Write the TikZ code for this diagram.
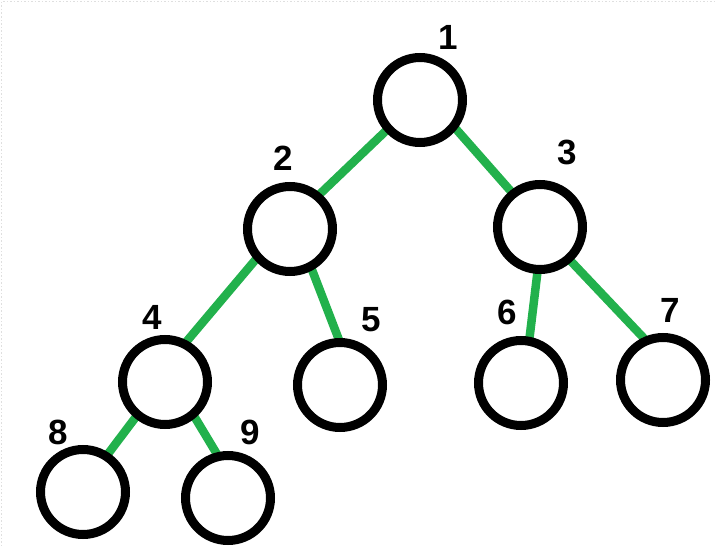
\documentclass[tikz,border=0pt]{standalone}
\usepackage{fontspec}
\setmainfont{Liberation Sans}
\usetikzlibrary{backgrounds}
\definecolor{paintgreen}{RGB}{34,177,76}
\tikzset{
  treenode/.style={circle, draw=black, line width=9pt, minimum size=85pt,
    inner sep=0pt, outer sep=0pt, fill=none},
  treeedge/.style={draw=paintgreen, line width=8.5pt},
  numlabel/.style={inner sep=0pt, font=\fontsize{35}{35}\selectfont\bfseries}
}
\begin{document}
\begin{tikzpicture}[x=1pt, y=-1pt]
  \useasboundingbox (0,0) rectangle (715,546);
  % faint dotted frame along the top and left edges
  \draw[gray!25, line width=1.5pt, dotted] (1.5,546) -- (1.5,1.5) -- (715,1.5);

  % tree nodes
  \node[treenode] (n1) at (420,100) {};
  \node[treenode] (n2) at (290,229) {};
  \node[treenode] (n3) at (540,227) {};
  \node[treenode] (n4) at (165,382) {};
  \node[treenode] (n5) at (340,385) {};
  \node[treenode] (n6) at (521,383) {};
  \node[treenode] (n7) at (663,380) {};
  \node[treenode] (n8) at (83,492) {};
  \node[treenode] (n9) at (228,498) {};

  % node numbers
  \node[numlabel] (l1) at (448,37) {1};
  \node[numlabel] (l2) at (283,158) {2};
  \node[numlabel] (l3) at (567,152) {3};
  \node[numlabel] (l4) at (152,317) {4};
  \node[numlabel] (l5) at (371,320) {5};
  \node[numlabel] (l6) at (507,312) {6};
  \node[numlabel] (l7) at (670,310) {7};
  \node[numlabel] (l8) at (58,432) {8};
  \node[numlabel] (l9) at (250,432) {9};

  % edges sit beneath the circle outlines
  \begin{scope}[on background layer]
    \draw[treeedge] (n1.222) -- (n2.50);
    \draw[treeedge] (n1.322) -- (n3.129);
    \draw[treeedge] (n2.221) -- (n4.63);
    \draw[treeedge] (n2.299) -- (n5.90);
    \draw[treeedge] (n3.267) -- (n6.79);
    \draw[treeedge] (n3.312) -- (n7.113);
    \draw[treeedge] (n4.230) -- (n8.57);
    \draw[treeedge] (n4.311) -- (n9.103);
  \end{scope}
\end{tikzpicture}
\end{document}
